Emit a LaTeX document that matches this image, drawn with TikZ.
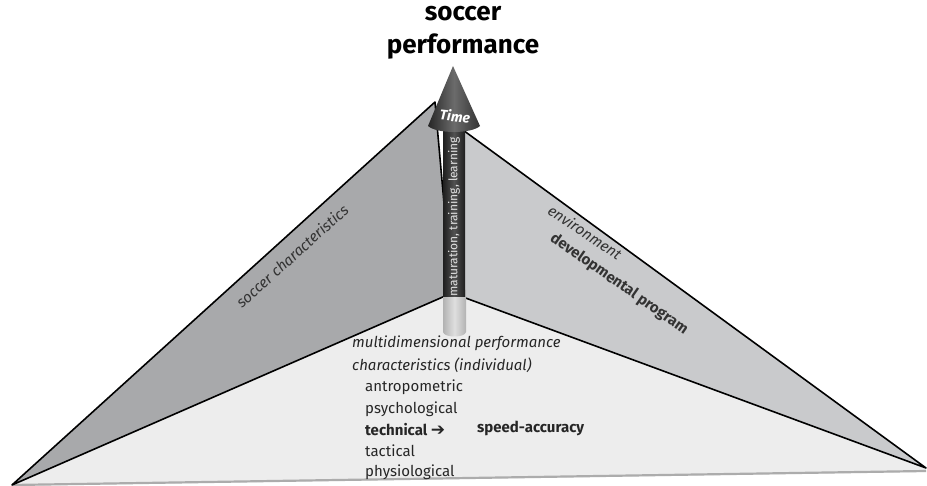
\documentclass[tikz,border=0pt]{standalone}
\usepackage{fontspec}
\setmainfont{Fira Sans}
\newfontfamily\symfont{DejaVu Sans}
\usetikzlibrary{positioning}

\definecolor{leftface}{HTML}{A8A9AB}
\definecolor{rightface}{HTML}{C9CACC}
\definecolor{floorface}{HTML}{EDEDED}

\begin{document}
\begin{tikzpicture}[x=1pt, y=-1pt,
    face/.style={draw=black, line width=1.6pt, line join=round},
    facetext/.style={text=black!80, inner sep=0pt},
    itemtext/.style={anchor=west, inner sep=0pt, text=black!85, font=\fontsize{15}{18}\selectfont}]
    \useasboundingbox (0,0) rectangle (927,486);

    \coordinate (bl) at (12,485);
    \coordinate (br) at (926,468);
    \coordinate (back) at (452,293);
    \coordinate (ltop) at (435,102);
    \coordinate (rtop) at (456,125);

    % floor and the two walls
    \fill[floorface] (bl) -- (back) -- (br) -- (926,472) -- (12,486) -- cycle;
    \draw[line width=2.2pt, gray!65] (12,485) -- (926,471);
    \filldraw[face, fill=rightface] (rtop) -- (br) -- (back) -- cycle;
    \filldraw[face, fill=leftface] (bl) -- (ltop) -- (back) -- cycle;

    % time arrow
    \shade[left color=gray!60, right color=gray!60, middle color=gray!25]
        (443,290) -- (443,332) .. controls (444,338) and (465,338) .. (466,332) -- (466,290) -- cycle;
    \shade[left color=black!88, right color=black!88, middle color=black!68]
        (443,125) rectangle (465,297);
    \shade[left color=black!85, right color=black!80, middle color=black!58]
        (453,66) -- (428,126) .. controls (437,134) and (471,134) .. (480,126) -- cycle;
    \node[text=white, inner sep=0pt, rotate=-6, font=\fontsize{14}{16}\selectfont\bfseries\itshape] (time) at (455,116) {Time};
    \node[text=white!88!black, inner sep=0pt, rotate=90, font=\fontsize{12}{14}\selectfont] (process) at (454,217) {maturation, training, learning};

    \node[align=center, inner sep=0pt, font=\fontsize{26}{33}\selectfont\bfseries] (title) at (463,33) {soccer\\performance};

    % wall labels
    \node[facetext, rotate=42, font=\fontsize{15}{17}\selectfont\itshape] (soccer) at (292,256) {soccer characteristics};
    \node[facetext, rotate=-34, font=\fontsize{15}{17}\selectfont\itshape] (environment) at (585,232) {environment};
    \node[facetext, rotate=-35, font=\fontsize{15}{17}\selectfont\bfseries] (program) at (619,284) {developmental program};

    % floor labels
    \node[itemtext, font=\fontsize{15}{18}\selectfont\itshape] (multi) at (352,343) {multidimensional performance};
    \node[itemtext, font=\fontsize{15}{18}\selectfont\itshape] (charac) at (352,365) {characteristics (individual)};
    \node[itemtext] (antro) at (365,387) {antropometric};
    \node[itemtext] (psycho) at (365,409) {psychological};
    \node[itemtext, font=\fontsize{15}{18}\selectfont\bfseries] (technical) at (365,430) {technical {\symfont\fontsize{17}{18}\selectfont ➔}};
    \node[itemtext] (tactical) at (365,451) {tactical};
    \node[itemtext] (physio) at (365,472) {physiological};
    \node[itemtext, font=\fontsize{15}{18}\selectfont\bfseries] (speed) at (477,428) {speed-accuracy};
\end{tikzpicture}
\end{document}
